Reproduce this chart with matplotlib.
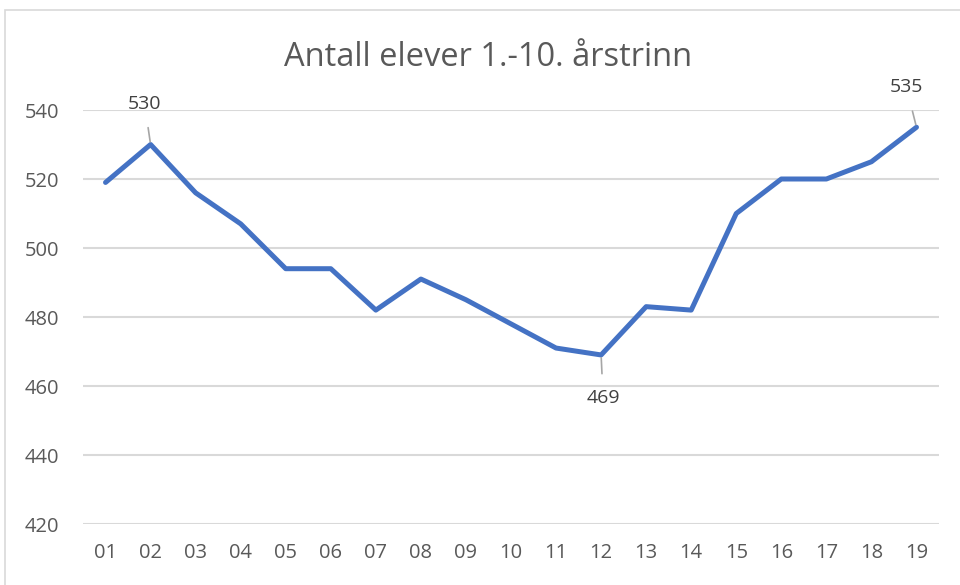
import matplotlib
matplotlib.use('Agg')
import matplotlib.pyplot as plt
from matplotlib.patches import Rectangle

# data
years = ['01', '02', '03', '04', '05', '06', '07', '08', '09', '10',
         '11', '12', '13', '14', '15', '16', '17', '18', '19']
elever = [519, 530, 516, 507, 494, 494, 482, 491, 485, 478,
          471, 469, 483, 482, 510, 520, 520, 525, 535]
yticks = [420, 440, 460, 480, 500, 520, 540]

# labelled points: index, offset in pixels for the label
labelled = [(1, (-6, 41)), (11, (2, -43)), (18, (-10, 40))]

plt.rcParams['font.family'] = ['Open Sans', 'DejaVu Sans']

fig = plt.figure(figsize=(9.6, 5.85), dpi=100)
ax = fig.add_axes([83/960, 1 - 524/585, (939 - 83)/960, (524 - 110)/585])

x = list(range(len(years)))
ax.plot(x, elever, color='#4472C4', lw=3.6, solid_joinstyle='round',
        solid_capstyle='round', zorder=3)

for i, off in labelled:
    ax.annotate(str(elever[i]), (x[i], elever[i]), xytext=off,
                textcoords='offset pixels', ha='center', va='center',
                fontsize=14, color='#404040',
                arrowprops=dict(arrowstyle='-', color='#A6A6A6', lw=1.2,
                                shrinkA=9, shrinkB=2))

ax.set_xlim(-0.5, len(years) - 0.5)
ax.set_ylim(420, 540)
ax.set_xticks(x)
ax.set_xticklabels(years)
ax.set_yticks(yticks)
ax.tick_params(length=0, labelsize=14.5, colors='#595959')
ax.tick_params(axis='x', pad=14)
ax.tick_params(axis='y', pad=17)
ax.grid(axis='y', color='#D9D9D9', lw=1.5)
ax.set_axisbelow(True)
for s in ax.spines.values():
    s.set_visible(False)

fig.text(488/960, 1 - 57/585, 'Antall elever 1.-10. årstrinn', ha='center',
         va='center', fontsize=23.5, color='#595959')

# chart area border
fig.patches.append(Rectangle((5/960, -0.1), 1.2, 1 - 10/585 + 0.1,
                             transform=fig.transFigure, fill=False,
                             edgecolor='#D9D9D9', lw=1.2))

fig.savefig('out.png', dpi=100)
